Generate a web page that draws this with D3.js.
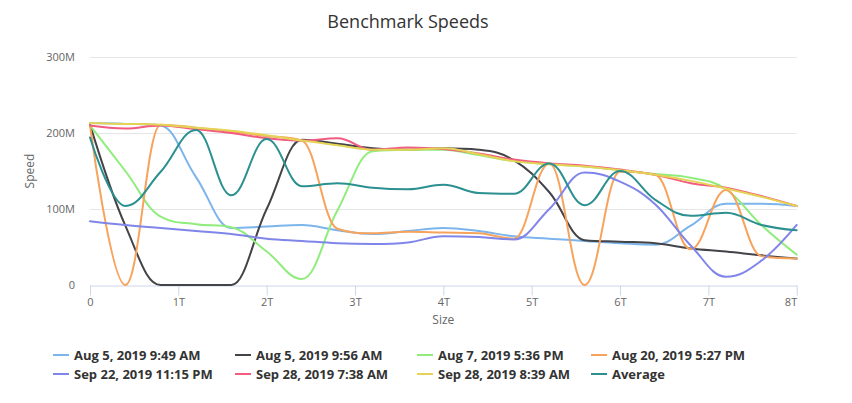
<!DOCTYPE html>
<html>
<head>
<meta charset="utf-8">
<script src="https://cdn.jsdelivr.net/npm/d3@7"></script>
<style>
  body { margin: 0; background: #fff; }
  svg { font-family: "Open Sans", "Liberation Sans", sans-serif; }
</style>
</head>
<body>
<div id="chart"></div>
<script>
// sizes in T, speeds in M
const sizes = [0, 0.4, 0.8, 1.2, 1.6, 2, 2.4, 2.8, 3.2, 3.6, 4, 4.4, 4.8, 5.2, 5.6, 6, 6.4, 6.8, 7.2, 7.6, 8];

const aug5a  = [213, 212, 210, 142, 75, 77, 79, 72, 67, 71, 75, 71, 64, 61, 58, 55, 53, 78, 107, 107, 104];
const aug5b  = [211, 78, 0, 0, 0, 100, 191, 186, 180, 178, 180, 178, 164, 122, 59, 57, 55, 48, 44, 39, 35];
const aug7   = [210, 150, 90, 80, 76, 44, 8, 98, 176, 178, 178, 171, 163, 159, 156, 151, 146, 141, 126, 79, 40];
const aug20  = [210, 0, 211, 207, 202, 196, 190, 74, 68, 70, 69, 68, 61, 160, 0, 149, 145, 47, 125, 38, 35];
const sep22  = [84, 79, 75, 71, 67, 61, 58, 55, 54, 56, 64, 63, 60, 100, 148, 136, 106, 52, 11, 32, 79];
const sep28a = [210, 206, 210, 205, 200, 193, 190, 193, 178, 181, 179, 173, 165, 160, 157, 152, 145, 134, 128, 117, 104];
const sep28b = [213, 212, 211, 207, 203, 197, 190, 184, 178, 178, 180, 172, 163, 159, 156, 151, 145, 137, 127, 116, 104];
const average = [194, 104, 149, 204, 118, 192, 130, 134, 128, 126, 132, 121, 120, 160, 105, 150, 112, 91, 95, 79, 72];

const seriesNames = ['Aug 5, 2019 9:49 AM', 'Aug 5, 2019 9:56 AM', 'Aug 7, 2019 5:36 PM', 'Aug 20, 2019 5:27 PM',
  'Sep 22, 2019 11:15 PM', 'Sep 28, 2019 7:38 AM', 'Sep 28, 2019 8:39 AM', 'Average'];
const seriesValues = [aug5a, aug5b, aug7, aug20, sep22, sep28a, sep28b, average];
const colors = ['#7cb5ec', '#434348', '#90ed7d', '#f7a35c', '#8085e9', '#f15c80', '#e4d354', '#2b908f'];

const xTicks = [0, 1, 2, 3, 4, 5, 6, 7, 8];
const yTicks = [0, 100, 200, 300];

const width = 852, height = 403;
const plot = { left: 90, right: 796.7, top: 57, bottom: 285 };

const svg = d3.select('#chart').append('svg')
  .attr('width', width)
  .attr('height', height);

const x = d3.scaleLinear().domain([0, 8]).range([plot.left, plot.right]);
const y = d3.scaleLinear().domain([0, 300]).range([plot.bottom, plot.top]);

// title
svg.append('text')
  .attr('x', 408).attr('y', 28)
  .attr('text-anchor', 'middle')
  .style('font-size', '18px')
  .style('fill', '#333333')
  .text('Benchmark Speeds');

// grid lines
svg.append('g')
  .selectAll('line')
  .data(yTicks.filter(d => d > 0))
  .enter().append('line')
    .attr('x1', plot.left).attr('x2', plot.right)
    .attr('y1', d => y(d) + 0.5).attr('y2', d => y(d) + 0.5)
    .attr('stroke', '#e6e6e6');

// y axis labels
const yAxis = svg.append('g')
  .attr('transform', 'translate(' + (plot.left - 15) + ',0)')
  .call(d3.axisLeft(y).tickValues(yTicks).tickSize(0).tickFormat(d => d === 0 ? '0' : d + 'M'));
yAxis.select('.domain').remove();
yAxis.selectAll('text')
  .attr('x', 0)
  .style('font-size', '11px')
  .style('font-family', '"Open Sans", sans-serif')
  .style('fill', '#666666');

// x axis
const xAxis = svg.append('g')
  .attr('transform', 'translate(0,' + (plot.bottom + 0.5) + ')')
  .call(d3.axisBottom(x).tickValues(xTicks).tickSize(10).tickSizeOuter(0).tickPadding(3)
    .tickFormat(d => d === 0 ? '0' : d + 'T'));
xAxis.select('.domain').attr('stroke', '#ccd6eb');
xAxis.selectAll('.tick line').attr('stroke', '#ccd6eb');
xAxis.selectAll('text')
  .style('font-size', '11px')
  .style('font-family', '"Open Sans", sans-serif')
  .style('fill', '#666666');
xAxis.selectAll('.tick').filter(d => d === 8).select('text')
  .attr('text-anchor', 'end').attr('x', 0);

// axis titles
svg.append('text')
  .attr('x', (plot.left + plot.right) / 2).attr('y', 324)
  .attr('text-anchor', 'middle')
  .style('font-size', '12px')
  .style('fill', '#666666')
  .text('Size');

svg.append('text')
  .attr('transform', 'translate(34,' + ((plot.top + plot.bottom) / 2) + ') rotate(-90)')
  .attr('text-anchor', 'middle')
  .style('font-size', '12px')
  .style('fill', '#666666')
  .text('Speed');

// highcharts-like spline (no overshoot at extremes)
const splinePath = (pts) => {
  const smoothing = 1.5, denom = smoothing + 1;
  const p = d3.path();
  const rc = [];
  pts.forEach((pt, i) => {
    const [px, py] = pt;
    let lcx = px, lcy = py;
    if (i > 0 && i < pts.length - 1) {
      const [lx, ly] = pts[i - 1];
      const [nx, ny] = pts[i + 1];
      lcx = (smoothing * px + lx) / denom;
      lcy = (smoothing * py + ly) / denom;
      let rcx = (smoothing * px + nx) / denom;
      let rcy = (smoothing * py + ny) / denom;
      let corr = 0;
      if (rcx !== lcx) corr = ((rcy - lcy) * (rcx - px)) / (rcx - lcx) + py - rcy;
      lcy += corr; rcy += corr;
      if (lcy > ly && lcy > py) { lcy = Math.max(ly, py); rcy = 2 * py - lcy; }
      else if (lcy < ly && lcy < py) { lcy = Math.min(ly, py); rcy = 2 * py - lcy; }
      if (rcy > ny && rcy > py) { rcy = Math.max(ny, py); lcy = 2 * py - rcy; }
      else if (rcy < ny && rcy < py) { rcy = Math.min(ny, py); lcy = 2 * py - rcy; }
      rc[i] = [rcx, rcy];
    }
    if (i === 0) { p.moveTo(px, py); }
    else {
      const prev = rc[i - 1] || pts[i - 1];
      p.bezierCurveTo(prev[0], prev[1], lcx, lcy, px, py);
    }
  });
  return p.toString();
};

const lines = svg.append('g');
seriesValues.forEach((vals, si) => {
  const pts = vals.map((v, i) => [x(sizes[i]), y(v)]);
  lines.append('path')
    .attr('d', splinePath(pts))
    .attr('fill', 'none')
    .attr('stroke', colors[si])
    .attr('stroke-width', 2)
    .attr('stroke-linejoin', 'round')
    .attr('stroke-linecap', 'round');
});

// legend
const colX = [53, 235, 417, 591];
const rowY = [355, 374];
const legend = svg.append('g');
seriesNames.forEach((name, i) => {
  const cx = colX[i % 4], cy = rowY[Math.floor(i / 4)];
  legend.append('line')
    .attr('x1', cx).attr('x2', cx + 16)
    .attr('y1', cy).attr('y2', cy)
    .attr('stroke', colors[i]).attr('stroke-width', 2);
  legend.append('text')
    .attr('x', cx + 21).attr('y', cy + 4.5)
    .style('font-size', '13px')
    .style('font-weight', 'bold')
    .style('fill', '#333333')
    .text(name);
});
</script>
</body>
</html>
